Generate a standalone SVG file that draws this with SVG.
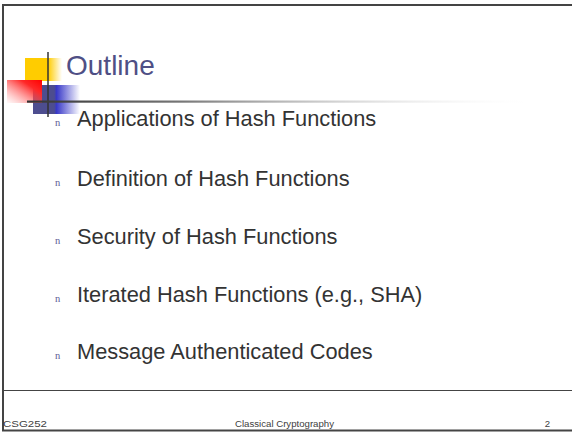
<svg xmlns="http://www.w3.org/2000/svg" width="572" height="435" viewBox="0 0 572 435">
<style>
.frame{stroke:#444;fill:none}
.bul{font-family:"Liberation Serif",serif;font-size:10.5px;fill:#5a5a96}
.item{font-family:"Liberation Sans",Arial,sans-serif;font-size:21.8px;fill:#333}
.foot{font-family:"Liberation Sans",Arial,sans-serif;font-size:9.6px;fill:#404040}
</style>
<defs>
<linearGradient id="gY" x1="0" y1="0" x2="1" y2="0">
<stop offset="0" stop-color="#ffcc00"/><stop offset="0.62" stop-color="#ffcc00"/><stop offset="1" stop-color="#ffcc00" stop-opacity="0"/>
</linearGradient>
<linearGradient id="gB" x1="0" y1="0" x2="1" y2="0">
<stop offset="0" stop-color="#4d4d8f"/><stop offset="0.45" stop-color="#4d4d8f"/><stop offset="0.5" stop-color="#3838c8"/><stop offset="1" stop-color="#3838c8" stop-opacity="0"/>
</linearGradient>
<linearGradient id="gR" x1="1" y1="0" x2="0" y2="1">
<stop offset="0" stop-color="#ff0000"/><stop offset="0.3" stop-color="#ff2828"/><stop offset="1" stop-color="#ff9090" stop-opacity="0.05"/>
</linearGradient>
<linearGradient id="gL" x1="0" y1="0" x2="1" y2="0">
<stop offset="0" stop-color="#333"/><stop offset="0.3" stop-color="#777"/><stop offset="1" stop-color="#fff" stop-opacity="0"/>
</linearGradient>
</defs>
<rect width="572" height="435" fill="#fff"/>
<g id="frame">
<line class="frame" x1="2" y1="5" x2="572" y2="5" stroke-width="2"/>
<line class="frame" x1="3" y1="4" x2="3" y2="431" stroke-width="2"/>
<line class="frame" x1="2" y1="430.5" x2="572" y2="430.5" stroke-width="2"/>
<line class="frame" x1="3" y1="390.5" x2="572" y2="390.5" stroke-width="1"/>
</g>
<g id="logo">
<rect x="25" y="58" width="37" height="23" fill="url(#gY)"/>
<rect x="33" y="85" width="47" height="29" fill="url(#gB)"/>
<rect x="7" y="80" width="35" height="23" fill="url(#gR)"/>
<line x1="48" y1="52" x2="48" y2="117" stroke="#333" stroke-width="1.5"/>
<rect x="27" y="100.5" width="515" height="2.2" fill="url(#gL)"/>
</g>
<g id="title">
<text x="66" y="75" font-family="Liberation Sans, Arial, sans-serif" font-size="28" fill="#4f4f85">Outline</text>
</g>
<g id="items">
<text class="bul" x="55" y="126">n</text><text class="item" x="77" y="126">Applications of Hash Functions</text>
<text class="bul" x="55" y="186">n</text><text class="item" x="77" y="186">Definition of Hash Functions</text>
<text class="bul" x="55" y="244">n</text><text class="item" x="77" y="244">Security of Hash Functions</text>
<text class="bul" x="55" y="302">n</text><text class="item" x="77" y="302">Iterated Hash Functions (e.g., SHA)</text>
<text class="bul" x="55" y="359">n</text><text class="item" x="77" y="359">Message Authenticated Codes</text>
</g>
<g id="footer">
<text class="foot" x="3" y="427" textLength="44" lengthAdjust="spacingAndGlyphs">CSG252</text>
<text class="foot" x="235" y="427" textLength="99" lengthAdjust="spacingAndGlyphs">Classical Cryptography</text>
<text class="foot" x="550" y="427" text-anchor="end">2</text>
</g>
</svg>
